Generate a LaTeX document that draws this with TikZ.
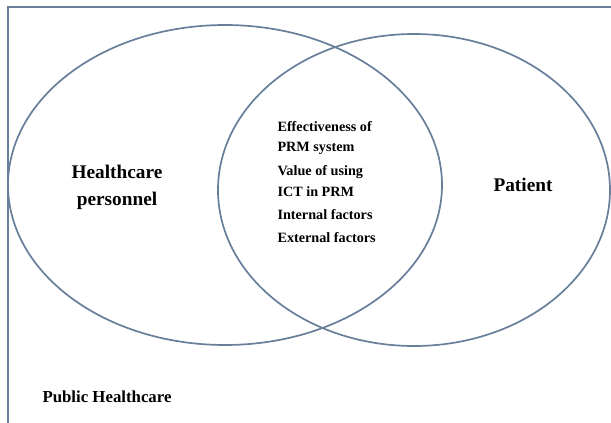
\documentclass[tikz,border=0pt]{standalone}
\usepackage{fontspec}
\setmainfont{Liberation Serif}
\definecolor{edge}{RGB}{104,126,155}
\begin{document}
\begin{tikzpicture}[x=1pt,y=-1pt,
  ring/.style={draw=edge,line width=1.7pt},
  big/.style={font=\bfseries\fontsize{19.3}{27}\selectfont,align=center},
  small/.style={font=\bfseries\fontsize{14.2}{20.5}\selectfont,align=left,anchor=west}]
\useasboundingbox (0,0) rectangle (611,423);
\draw[draw=edge,line width=2pt] (7.5,430) -- (7.5,7) -- (620,7);
\draw[ring] (225,185) ellipse [x radius=217, y radius=160];
\draw[ring] (414,190) ellipse [x radius=196, y radius=156];
\node[big] (hp) at (117,187) {Healthcare\\personnel};
\node[big] (pt) at (523,185) {Patient};
\node[small] (e1) at (274,138) {Effectiveness of\\PRM system};
\node[small] (e2) at (274,181) {Value of using\\ICT in PRM};
\node[small] (e3) at (274,215) {Internal factors};
\node[small] (e4) at (274,238) {External factors};
\node[font=\bfseries\fontsize{16.8}{20}\selectfont,anchor=west] (ph) at (39,397) {Public Healthcare};
\end{tikzpicture}
\end{document}
